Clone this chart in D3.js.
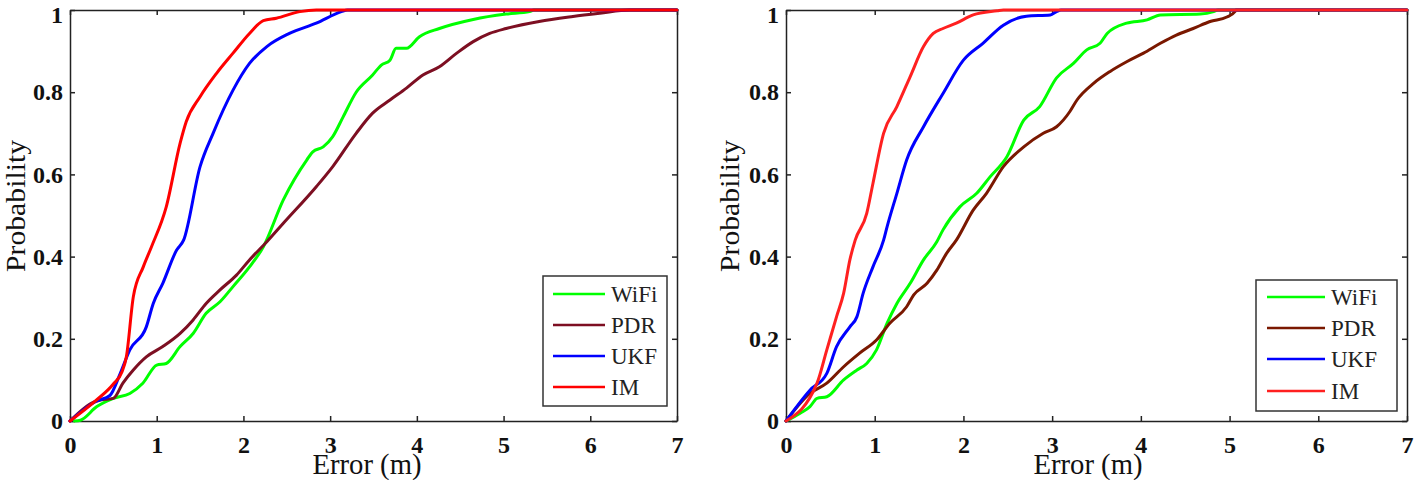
<!DOCTYPE html>
<html>
<head>
<meta charset="utf-8">
<script src="https://cdn.jsdelivr.net/npm/d3@7"></script>
<style>
  html, body { margin: 0; padding: 0; background: #fff; }
  svg { display: block; }
</style>
</head>
<body>
<svg id="chart" width="1415" height="480"></svg>
<script>
// ---------- DATA ----------
const seriesNames = ["WiFi", "PDR", "UKF", "IM"];
const xTicks = [0, 1, 2, 3, 4, 5, 6, 7];
const yTicks = [0, 0.2, 0.4, 0.6, 0.8, 1];

// Left panel
const leftWifiX = [0.05,0.12,0.31,0.5,0.69,0.84,1.0,1.11,1.27,1.42,1.57,1.73,1.88,2.07,2.23,2.46,2.73,2.80,2.92,3.03,3.15,3.30,3.49,3.59,3.69,3.76,3.88,4.03,4.26,4.65,5.03,5.30,5.35,7];
const leftWifiP = [0,0.002,0.035,0.055,0.067,0.092,0.136,0.14,0.181,0.213,0.262,0.29,0.327,0.375,0.424,0.538,0.635,0.655,0.667,0.692,0.74,0.80,0.842,0.866,0.878,0.907,0.907,0.935,0.955,0.977,0.99,0.996,1,1];
const leftPdrX = [0,0.3,0.35,0.5,0.61,0.73,0.88,1.07,1.27,1.42,1.57,1.73,1.92,2.07,2.27,2.46,2.84,3.03,3.30,3.49,3.69,3.88,4.07,4.26,4.46,4.65,4.84,5.03,5.41,5.80,6.11,6.45,7];
const leftPdrP = [0,0.048,0.051,0.055,0.092,0.124,0.156,0.181,0.213,0.246,0.286,0.319,0.355,0.392,0.436,0.481,0.57,0.619,0.70,0.749,0.781,0.81,0.842,0.862,0.895,0.923,0.943,0.955,0.972,0.984,0.992,1,1];
const leftUkfX = [0,0.3,0.46,0.58,0.69,0.88,0.96,1.07,1.23,1.31,1.5,1.65,1.88,2.07,2.27,2.53,2.84,3.13,3.2,7];
const leftUkfP = [0,0.048,0.062,0.116,0.173,0.229,0.286,0.335,0.416,0.44,0.619,0.70,0.805,0.87,0.911,0.943,0.968,0.996,1,1];
const leftImX = [0,0.3,0.5,0.6,0.65,0.73,0.845,0.94,1.11,1.27,1.34,1.5,1.69,1.88,2.07,2.23,2.38,2.65,2.84,7];
const leftImP = [0,0.05,0.09,0.12,0.156,0.302,0.375,0.424,0.521,0.676,0.728,0.789,0.846,0.895,0.943,0.974,0.98,0.996,1,1];

// Right panel
const rightWifiX = [0,0.16,0.27,0.35,0.46,0.65,0.80,0.91,1.02,1.14,1.25,1.40,1.55,1.70,1.77,1.96,2.15,2.30,2.49,2.68,2.86,3.05,3.24,3.39,3.54,3.62,3.84,4.07,4.22,4.67,4.82,4.87,7];
const rightWifiP = [0,0.019,0.035,0.055,0.059,0.10,0.124,0.14,0.173,0.238,0.286,0.335,0.392,0.436,0.465,0.521,0.554,0.594,0.643,0.732,0.765,0.835,0.87,0.903,0.919,0.943,0.968,0.976,0.988,0.99,0.996,1,1];
const rightPdrX = [0,0.27,0.46,0.65,0.83,1.02,1.17,1.36,1.44,1.59,1.70,1.81,1.92,2.11,2.26,2.45,2.68,2.90,3.05,3.20,3.28,3.47,3.65,3.84,4.03,4.22,4.40,4.59,4.78,4.97,5.06,5.07,7];
const rightPdrP = [0,0.067,0.092,0.132,0.165,0.197,0.238,0.278,0.307,0.335,0.367,0.408,0.44,0.513,0.554,0.619,0.667,0.70,0.716,0.753,0.781,0.822,0.85,0.874,0.895,0.919,0.939,0.955,0.972,0.983,0.996,1,1];
const rightUkfX = [0,0.27,0.46,0.57,0.72,0.80,0.87,0.98,1.10,1.14,1.25,1.36,1.55,1.77,2.0,2.22,2.45,2.71,2.98,3.05,3.1,7];
const rightUkfP = [0,0.075,0.116,0.181,0.229,0.254,0.311,0.375,0.44,0.473,0.554,0.635,0.716,0.797,0.878,0.919,0.963,0.985,0.988,0.996,1,1];
const rightImX = [0,0.35,0.46,0.57,0.65,0.72,0.78,0.91,0.98,1.10,1.25,1.40,1.55,1.66,1.77,1.92,2.11,2.38,2.45,7];
const rightImP = [0,0.092,0.173,0.254,0.311,0.392,0.44,0.505,0.578,0.70,0.765,0.838,0.911,0.943,0.955,0.968,0.988,0.998,1,1];

// ---------- DRAW ----------
const FONT = "'Liberation Serif', serif";
const svg = d3.select("#chart");
svg.append("rect").attr("width", 1415).attr("height", 480).attr("fill", "#fff");

const zip = (xs, ps) => xs.map((x, i) => ({ x, p: ps[i] }));

const panels = [
  {
    x0: 70, x1: 677, y0: 10, y1: 421,
    colors: ["#00ff00", "#7d0f22", "#0000ff", "#ff0000"],
    series: [zip(leftWifiX, leftWifiP), zip(leftPdrX, leftPdrP), zip(leftUkfX, leftUkfP), zip(leftImX, leftImP)],
    legend: { x: 543, y: 276, w: 124, h: 130, rows: [294, 325, 356, 387], lx0: 553, lx1: 605, tx: 611 },
    ylabX: 25, xlabX: 367
  },
  {
    x0: 786, x1: 1407, y0: 10, y1: 421,
    colors: ["#00ff00", "#7a1800", "#0000ff", "#ff2020"],
    series: [zip(rightWifiX, rightWifiP), zip(rightPdrX, rightPdrP), zip(rightUkfX, rightUkfP), zip(rightImX, rightImP)],
    legend: { x: 1256, y: 280, w: 141, h: 131, rows: [297, 328, 359, 391], lx0: 1267, lx1: 1325, tx: 1331 },
    ylabX: 739, xlabX: 1088
  }
];

panels.forEach(P => {
  const x = d3.scaleLinear().domain([0, 7]).range([P.x0, P.x1]);
  const y = d3.scaleLinear().domain([0, 1]).range([P.y1, P.y0]);
  const g = svg.append("g");

  const styleAxis = sel => {
    sel.attr("font-family", null);
    sel.selectAll("path.domain").attr("stroke", "#222").attr("stroke-width", 1.5);
    sel.selectAll(".tick line").attr("stroke", "#222").attr("stroke-width", 1.5);
  };
  const styleTickText = s => s.selectAll("text")
    .style("font-family", FONT).style("font-weight", "bold").style("font-size", "24px").attr("fill", "#111");

  // bottom
  g.append("g").attr("transform", `translate(0,${P.y1})`)
    .call(d3.axisBottom(x).tickValues(xTicks).tickFormat(d3.format("d")).tickSize(-5).tickSizeOuter(0).tickPadding(15))
    .call(styleAxis).call(styleTickText);
  // top
  g.append("g").attr("transform", `translate(0,${P.y0})`)
    .call(d3.axisTop(x).tickValues(xTicks).tickFormat("").tickSize(-5).tickSizeOuter(0))
    .call(styleAxis);
  // left
  g.append("g").attr("transform", `translate(${P.x0},0)`)
    .call(d3.axisLeft(y).tickValues(yTicks).tickFormat(d3.format("~g")).tickSize(-5).tickSizeOuter(0).tickPadding(7))
    .call(styleAxis).call(styleTickText)
    .call(s => s.selectAll(".tick").filter(d => d === 1).select("text").attr("dy", "0.5em"));
  // right
  g.append("g").attr("transform", `translate(${P.x1},0)`)
    .call(d3.axisRight(y).tickValues(yTicks).tickFormat("").tickSize(-5).tickSizeOuter(0))
    .call(styleAxis);

  // axis titles
  svg.append("text").attr("x", P.xlabX).attr("y", 474).attr("text-anchor", "middle")
    .style("font-family", FONT).style("font-size", "29px").attr("fill", "#111")
    .attr("textLength", 109).attr("lengthAdjust", "spacingAndGlyphs")
    .text("Error (m)");
  svg.append("text").attr("transform", `translate(${P.ylabX},206) rotate(-90)`).attr("text-anchor", "middle")
    .style("font-family", FONT).style("font-size", "27px").attr("fill", "#111")
    .attr("textLength", 132).attr("lengthAdjust", "spacingAndGlyphs")
    .text("Probability");

  // curves
  const line = d3.line().x(d => x(d.x)).y(d => y(d.p)).curve(d3.curveMonotoneX);
  P.series.forEach((s, i) => {
    g.append("path").datum(s).attr("d", line)
      .attr("fill", "none").attr("stroke", P.colors[i]).attr("stroke-width", 3)
      .attr("stroke-linejoin", "round").attr("stroke-linecap", "round");
  });

  // legend
  const L = P.legend;
  const lg = svg.append("g");
  lg.append("rect").attr("x", L.x).attr("y", L.y).attr("width", L.w).attr("height", L.h)
    .attr("fill", "#fff").attr("stroke", "#333").attr("stroke-width", 1.5);
  seriesNames.forEach((name, i) => {
    lg.append("line").attr("x1", L.lx0).attr("x2", L.lx1).attr("y1", L.rows[i]).attr("y2", L.rows[i])
      .attr("stroke", P.colors[i]).attr("stroke-width", 2.5);
    lg.append("text").attr("x", L.tx).attr("y", L.rows[i] + 8)
      .style("font-family", FONT).style("font-size", "23px").attr("fill", "#222")
      .text(name);
  });
});
</script>
</body>
</html>
